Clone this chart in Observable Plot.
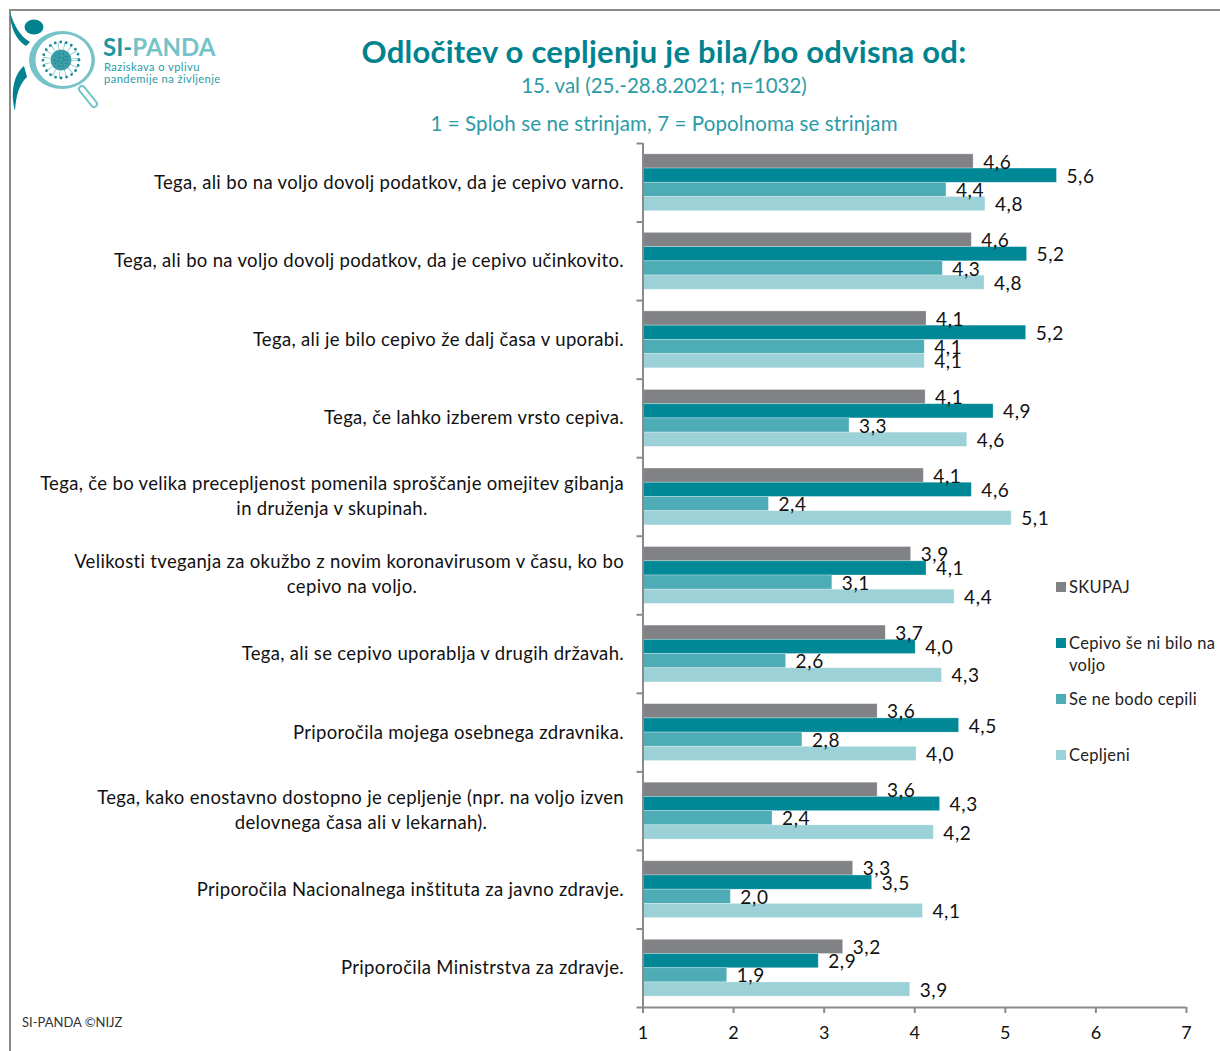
<!DOCTYPE html>
<html lang="sl">
<head>
<meta charset="utf-8">
<script src="https://cdn.jsdelivr.net/npm/d3@7"></script>
<script src="https://cdn.jsdelivr.net/npm/@observablehq/plot@0.6"></script>
<style>
html,body{margin:0;padding:0;background:#fff;}
body{width:1220px;height:1051px;position:relative;overflow:hidden;font-family:Lato,"Open Sans",sans-serif;}
#frame{position:absolute;left:9px;top:9px;width:1300px;height:1200px;border:2px solid #8a8a8a;box-sizing:border-box;}
#header{position:relative;height:130px;}
.t{position:absolute;left:0;width:1328px;text-align:center;white-space:nowrap;}
#title{top:32px;font-size:31px;font-weight:700;color:#00838f;letter-spacing:.25px;}
#sub1{top:73px;font-size:20.5px;color:#2b9ba7;}
#sub2{top:111px;font-size:20.5px;color:#2b9ba7;letter-spacing:.1px;}
#chart{display:block;position:relative;}
#chart svg{display:block;}
#chart .cat text{letter-spacing:.33px;}
#chart .val text{letter-spacing:.6px;}
#legend{position:absolute;left:0;top:0;}
.li{position:absolute;left:1056px;}
.sw{position:absolute;left:0;top:6px;width:10px;height:10px;}
.lb{position:absolute;left:13px;top:0;width:150px;font-size:16.5px;line-height:22px;color:#222;letter-spacing:.3px;}
#caption{position:absolute;left:22px;top:1014px;font-size:13px;color:#333;}
#logo{position:absolute;left:0;top:0;}
</style>
</head>
<body>
<div id="frame"></div>
<svg id="logo" width="230" height="115" viewBox="0 0 230 115">
  <path d="M10 12 C14 26 21 37 30 42 L26 46 C17 41 10 28 10 12Z" fill="#00838f"/>
  <ellipse cx="34" cy="27" rx="9.5" ry="7.5" fill="#00838f"/>
  <path d="M24 66 C14 74 10 92 15 111 C16 96 19 84 27 77Z" fill="#00838f"/>
  <line x1="82" y1="89" x2="94" y2="104" stroke="#74c3c9" stroke-width="8" stroke-linecap="round"/>
  <line x1="82" y1="89" x2="94" y2="104" stroke="#fff" stroke-width="4" stroke-linecap="round"/>
  <ellipse cx="62" cy="60" rx="33" ry="29" fill="#74c3c9"/>
  <ellipse cx="63.5" cy="60" rx="28" ry="26" fill="#fff"/>
  <circle cx="61" cy="60" r="14" fill="none" stroke="#6dbcc4" stroke-width="8" stroke-dasharray="0.7 5"/>
  <circle cx="61" cy="60" r="18" fill="none" stroke="#128b98" stroke-width="2.8" stroke-linecap="round" stroke-dasharray="0 5.6"/>
  <circle cx="61" cy="60" r="10.5" fill="#3b9ea8"/>
  <circle cx="61" cy="60" r="6.5" fill="none" stroke="#0f7885" stroke-width="1.5" stroke-linecap="round" stroke-dasharray="0 4"/>
  <circle cx="61" cy="60" r="3" fill="none" stroke="#0f7885" stroke-width="1.5" stroke-linecap="round" stroke-dasharray="0 4"/>
  <text x="103" y="56" font-family="Lato" font-weight="700" font-size="24"><tspan fill="#1f96a2">SI-</tspan><tspan fill="#74c3c9">PANDA</tspan></text>
  <text x="104" y="71" font-family="Lato" font-size="11.2" letter-spacing=".4" fill="#2b9ba7">Raziskava o vplivu</text>
  <text x="104" y="82.5" font-family="Lato" font-size="11.2" letter-spacing=".4" fill="#2b9ba7">pandemije na življenje</text>
</svg>
<div id="header">
  <div class="t" id="title">Odločitev o cepljenju je bila/bo odvisna od:</div>
  <div class="t" id="sub1">15. val (25.-28.8.2021; n=1032)</div>
  <div class="t" id="sub2">1 = Sploh se ne strinjam, 7 = Popolnoma se strinjam</div>
</div>
<div id="chart"></div>
<div id="legend"></div>
<div id="caption">SI-PANDA ©NIJZ</div>
<script>
const categories = [
  "Tega, ali bo na voljo dovolj podatkov, da je cepivo varno.",
  "Tega, ali bo na voljo dovolj podatkov, da je cepivo učinkovito.",
  "Tega, ali je bilo cepivo že dalj časa v uporabi.",
  "Tega, če lahko izberem vrsto cepiva.",
  "Tega, če bo velika precepljenost pomenila sproščanje omejitev gibanja\nin druženja v skupinah.",
  "Velikosti tveganja za okužbo z novim koronavirusom v času, ko bo\ncepivo na voljo.",
  "Tega, ali se cepivo uporablja v drugih državah.",
  "Priporočila mojega osebnega zdravnika.",
  "Tega, kako enostavno dostopno je cepljenje (npr. na voljo izven\ndelovnega časa ali v lekarnah).",
  "Priporočila Nacionalnega inštituta za javno zdravje.",
  "Priporočila Ministrstva za zdravje."
];
const seriesNames = ["SKUPAJ", "Cepivo še ni bilo na voljo", "Se ne bodo cepili", "Cepljeni"];
const seriesColors = ["#808285", "#008896", "#4eacb7", "#9cd1d7"];
const skupaj   = [4.65, 4.63, 4.13, 4.12, 4.10, 3.96, 3.68, 3.59, 3.59, 3.32, 3.21];
const niBilo   = [5.57, 5.24, 5.23, 4.87, 4.63, 4.13, 4.01, 4.49, 4.28, 3.53, 2.94];
const neBodo   = [4.35, 4.31, 4.11, 3.28, 2.39, 3.09, 2.58, 2.76, 2.43, 1.97, 1.93];
const cepljeni = [4.78, 4.77, 4.11, 4.58, 5.07, 4.44, 4.30, 4.02, 4.21, 4.09, 3.95];
const skupajLabels   = ["4,6","4,6","4,1","4,1","4,1","3,9","3,7","3,6","3,6","3,3","3,2"];
const niBiloLabels   = ["5,6","5,2","5,2","4,9","4,6","4,1","4,0","4,5","4,3","3,5","2,9"];
const neBodoLabels   = ["4,4","4,3","4,1","3,3","2,4","3,1","2,6","2,8","2,4","2,0","1,9"];
const cepljeniLabels = ["4,8","4,8","4,1","4,6","5,1","4,4","4,3","4,0","4,2","4,1","3,9"];
const xTicks = [1, 2, 3, 4, 5, 6, 7];

const seriesValues = [skupaj, niBilo, neBodo, cepljeni];
const seriesLabels = [skupajLabels, niBiloLabels, neBodoLabels, cepljeniLabels];

// y is a continuous row index: each category occupies one unit
const groupOffset = 0.138, barShare = 0.181;
const rows = [];
categories.forEach((c, i) => seriesNames.forEach((s, j) => rows.push({
  series: s,
  value: seriesValues[j][i],
  label: seriesLabels[j][i],
  y1: i + groupOffset + j * barShare,
  y2: i + groupOffset + (j + 1) * barShare
})));

const axisColor = "#8a8a8a", font = "Lato, 'Open Sans', sans-serif";
const labelFont = 18.5;

const firstLines = categories.map((c, i) => ({text: c.split("\n")[0], two: c.includes("\n"), i}));
const secondLines = categories.map((c, i) => ({text: c.split("\n")[1], i})).filter(d => d.text);
const secondShift = {4: -311, 5: -291, 8: -282};

const plot = Plot.plot({
  width: 1220,
  height: 921,
  marginTop: 13,
  marginBottom: 44,
  marginLeft: 642.5,
  marginRight: 34,
  style: {fontFamily: font, background: "transparent", overflow: "visible"},
  x: {domain: [1, 7]},
  y: {domain: [0, 11], reverse: true},
  color: {domain: seriesNames, range: seriesColors},
  marks: [
    Plot.rect(rows, {x1: () => 1, x2: "value", y1: "y1", y2: "y2", fill: "series", stroke: "#ffffff", strokeOpacity: 0.35, strokeWidth: 0.8}),
    Plot.text(rows, {x: "value", y: d => (d.y1 + d.y2) / 2, text: "label", textAnchor: "start", dx: 9.5, dy: 1, fontSize: 19, fill: "#111", className: "val"}),
    Plot.text(firstLines.filter(d => !d.two), {x: () => 1, y: d => d.i + 0.5, text: "text", textAnchor: "end", dx: -19, dy: 0, fontSize: labelFont, fill: "#111", className: "cat"}),
    Plot.text(firstLines.filter(d => d.two), {x: () => 1, y: d => d.i + 0.5, text: "text", textAnchor: "end", dx: -19, dy: -13, fontSize: labelFont, fill: "#111", className: "cat"}),
    ...secondLines.map(d => Plot.text([d], {x: () => 1, y: e => e.i + 0.5, text: "text", textAnchor: "middle", dx: secondShift[d.i], dy: 12, fontSize: labelFont, fill: "#111", className: "cat"})),
    Plot.ruleX([1], {stroke: axisColor, strokeWidth: 2}),
    Plot.ruleY([11], {stroke: axisColor, strokeWidth: 2}),
    Plot.axisY({ticks: d3.range(0, 12), tickFormat: () => "", tickSize: 6, label: null, stroke: axisColor, strokeWidth: 2}),
    Plot.axisX({ticks: xTicks, tickSize: 6, tickPadding: 13, label: null, tickFormat: d => String(d), fontSize: 18, stroke: axisColor, strokeWidth: 2, fill: "#111"})
  ]
});
document.getElementById("chart").appendChild(plot);

const legendTops = [576, 632, 688, 744];
const legend = document.getElementById("legend");
seriesNames.forEach((s, j) => {
  const li = document.createElement("div");
  li.className = "li";
  li.style.top = legendTops[j] + "px";
  const sw = document.createElement("div");
  sw.className = "sw";
  sw.style.background = seriesColors[j];
  const lb = document.createElement("div");
  lb.className = "lb";
  lb.textContent = s;
  li.append(sw, lb);
  legend.appendChild(li);
});
</script>
</body>
</html>
